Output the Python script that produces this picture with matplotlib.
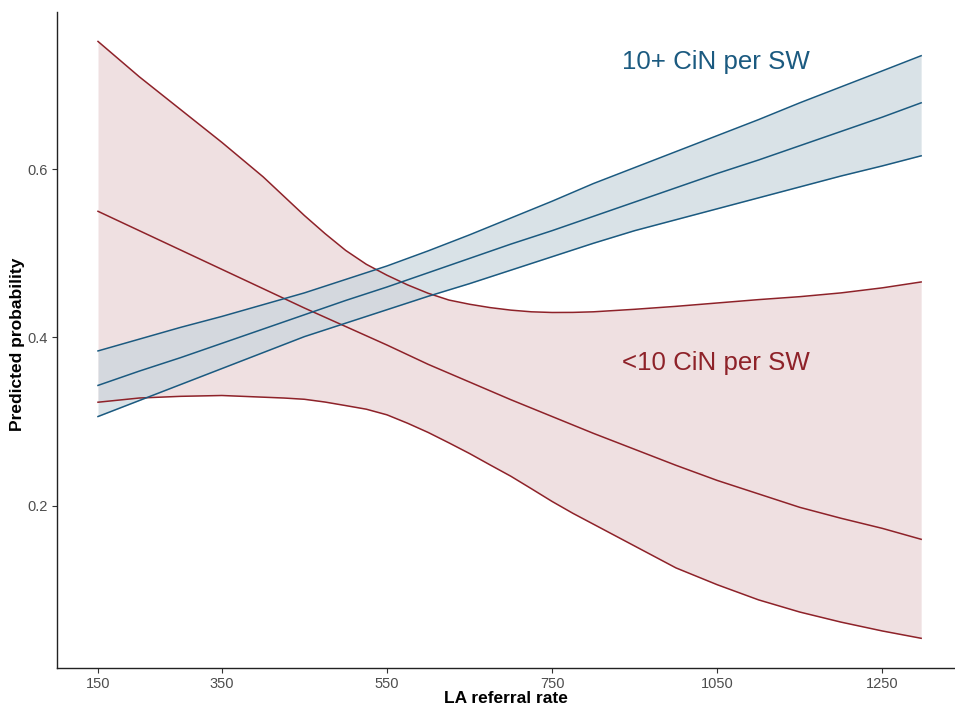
import numpy as np
import matplotlib
matplotlib.use('Agg')
import matplotlib.pyplot as plt

plt.rcParams['font.family'] = ['Liberation Sans', 'DejaVu Sans']

# referral rate grid (axis units), predicted probabilities
rate = [200, 250, 300, 350, 400, 450, 500, 550, 600, 650, 700,
        750, 800, 850, 900, 950, 1000, 1050, 1100, 1150, 1197]

hi_mean = [0.343, 0.360, 0.376, 0.393, 0.410, 0.427, 0.444, 0.460, 0.477, 0.494, 0.511,
           0.527, 0.544, 0.561, 0.578, 0.595, 0.611, 0.628, 0.645, 0.662, 0.679]
hi_upper = [0.384, 0.398, 0.412, 0.425, 0.439, 0.453, 0.469, 0.485, 0.503, 0.522, 0.542,
            0.562, 0.583, 0.602, 0.621, 0.640, 0.659, 0.679, 0.698, 0.717, 0.735]
hi_lower = [0.306, 0.325, 0.344, 0.363, 0.382, 0.401, 0.417, 0.433, 0.449, 0.464, 0.480,
            0.496, 0.512, 0.527, 0.540, 0.553, 0.566, 0.579, 0.592, 0.604, 0.616]

lo_mean = [0.550, 0.527, 0.504, 0.481, 0.458, 0.435, 0.413, 0.391, 0.368, 0.347, 0.326,
           0.306, 0.286, 0.267, 0.248, 0.230, 0.214, 0.198, 0.185, 0.173, 0.160]

# the <10 band bends more, so it was read on a finer grid
rate_fine = [200, 250, 300, 350, 400, 425, 450, 475, 500, 525, 550, 575, 600, 625, 650,
             675, 700, 725, 750, 775, 800, 850, 900, 950, 1000, 1050, 1100, 1150, 1197]
lo_upper = [0.752, 0.710, 0.671, 0.632, 0.591, 0.568, 0.545, 0.5235, 0.5035, 0.487, 0.474,
            0.4625, 0.4525, 0.4445, 0.4395, 0.4355, 0.4325, 0.4305, 0.4297, 0.4298, 0.4305,
            0.4335, 0.437, 0.441, 0.445, 0.4485, 0.453, 0.459, 0.466]
lo_lower = [0.323, 0.328, 0.330, 0.331, 0.329, 0.328, 0.3265, 0.3232, 0.319, 0.3147, 0.308,
            0.298, 0.287, 0.2747, 0.262, 0.2484, 0.235, 0.2201, 0.205, 0.191, 0.178,
            0.152, 0.126, 0.106, 0.088, 0.0735, 0.0615, 0.051, 0.0423]

tick_pos = [200, 350, 550, 750, 950, 1150]
tick_labels = ['150', '350', '550', '750', '1050', '1250']
y_ticks = [0.2, 0.4, 0.6]

blue = '#1b5a80'
red = '#8e2229'

fig = plt.figure(figsize=(9.55, 7.07), dpi=100)
ax = fig.add_axes([0.0594, 0.0552, 1 - 0.0594, 0.9835 - 0.0552])

# <10 CiN per SW
ax.fill_between(rate_fine, lo_lower, lo_upper, color='#efe0e1', linewidth=0)
ax.plot(rate_fine, lo_upper, color=red, lw=1.1)
ax.plot(rate, lo_mean, color=red, lw=1.1)
ax.plot(rate_fine, lo_lower, color=red, lw=1.1)

# 10+ CiN per SW, ribbon drawn over the red lines
ax.fill_between(rate, hi_lower, hi_upper, color='#c9d6de', alpha=0.7, linewidth=0)
ax.plot(rate, hi_upper, color=blue, lw=1.1)
ax.plot(rate, hi_mean, color=blue, lw=1.1)
ax.plot(rate, hi_lower, color=blue, lw=1.1)

ax.text(835, 0.719, '10+ CiN per SW', color=blue, fontsize=18.6, ha='left', va='baseline')
ax.text(835, 0.361, '<10 CiN per SW', color=red, fontsize=18.6, ha='left', va='baseline')

ax.set_xlim(150, 1238)
ax.set_ylim(0.007, 0.7874)
ax.set_xticks(tick_pos)
ax.set_xticklabels(tick_labels)
ax.set_yticks(y_ticks)
ax.set_yticklabels([str(v) for v in y_ticks])

for s in ['top', 'right']:
    ax.spines[s].set_visible(False)
for s in ['left', 'bottom']:
    ax.spines[s].set_color('#222222')
    ax.spines[s].set_linewidth(1.0)

ax.tick_params(axis='both', length=3.5, width=0.8, color='#333333',
               labelcolor='#4d4d4d', labelsize=10.5, pad=3)
ax.set_xlabel('LA referral rate', fontsize=12.5, fontweight='bold')
ax.set_ylabel('Predicted probability', fontsize=12.5, fontweight='bold')
ax.xaxis.set_label_coords(0.5, -0.0346)
ax.yaxis.set_label_coords(-0.0353, 0.4937)

fig.savefig('out.png', dpi=100)
